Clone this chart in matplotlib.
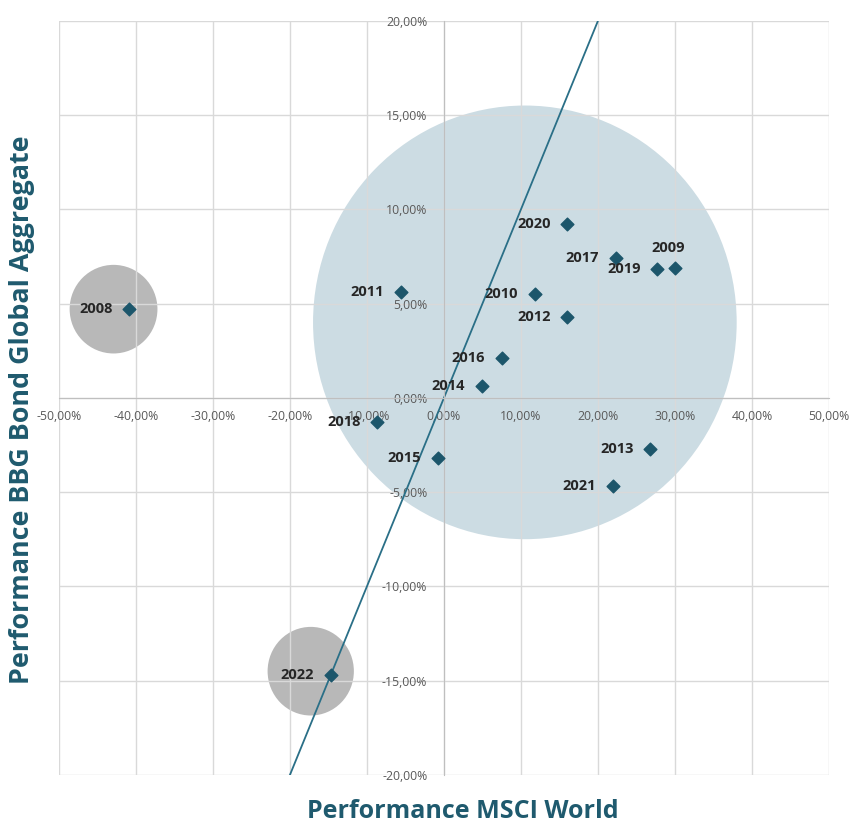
import matplotlib.pyplot as plt
from matplotlib.patches import Ellipse
from matplotlib.ticker import FuncFormatter

# Jahresperformance in %
years = ["2008", "2009", "2010", "2011", "2012", "2013", "2014", "2015",
         "2016", "2017", "2018", "2019", "2020", "2021", "2022"]
msci_world = [-40.9, 30.0, 11.8, -5.6, 16.0, 26.8, 4.9, -0.8,
              7.5, 22.3, -8.7, 27.7, 16.0, 21.9, -14.7]
bbg_bond = [4.7, 6.9, 5.5, 5.6, 4.3, -2.7, 0.6, -3.2,
            2.1, 7.4, -1.3, 6.85, 9.2, -4.7, -14.7]

teal = "#1c566b"
label_col = "#1f5a6e"
tick_col = "#595959"

plt.rcParams['font.family'] = ['Open Sans', 'DejaVu Sans']

fig = plt.figure(figsize=(8.53, 8.27), dpi=100)
ax = fig.add_axes([0.069, 0.063, 0.903, 0.912])

ax.set_xlim(-50, 50)
ax.set_ylim(-20, 20)
ax.set_xticks(range(-50, 51, 10))
ax.set_yticks(range(-20, 21, 5))

fmt = FuncFormatter(lambda v, p: f"{v:.2f}".replace(".", ",") + "%")
ax.xaxis.set_major_formatter(fmt)
ax.yaxis.set_major_formatter(fmt)

ax.set_axisbelow(True)
ax.grid(True, color="#d9d9d9", linewidth=1.0)

for s in ["top", "right"]:
    ax.spines[s].set_visible(False)
ax.spines["left"].set_position(("data", 0))
ax.spines["bottom"].set_position(("data", 0))
ax.spines["left"].set_color("#bfbfbf")
ax.spines["bottom"].set_color("#bfbfbf")
ax.tick_params(length=0, colors=tick_col, labelsize=8.8)
ax.tick_params(axis="x", pad=9)
ax.tick_params(axis="y", pad=12)

# Kreise
ax.add_patch(Ellipse((10.5, 4.0), 55, 23, color="#ccdce3", zorder=0.2, lw=0))
ax.add_patch(Ellipse((-42.9, 4.7), 11.4, 4.7, color="#b8b8b8", zorder=0.2, lw=0))
ax.add_patch(Ellipse((-17.3, -14.5), 11.2, 4.7, color="#b8b8b8", zorder=0.2, lw=0))

# Diagonale
ax.plot([-20, 20], [-20, 20], color="#2a6f87", lw=1.3, zorder=2)

ax.scatter(msci_world, bbg_bond, marker="D", s=42, color=teal, zorder=3)

for yr, x, y in zip(years, msci_world, bbg_bond):
    if yr == "2009":
        ax.annotate(yr, (x, y), xytext=(-5, 14), textcoords="offset points",
                    ha="center", va="center", fontsize=10.5, fontweight="bold",
                    color="#262626", zorder=4)
    else:
        ax.annotate(yr, (x, y), xytext=(-12, 0), textcoords="offset points",
                    ha="right", va="center", fontsize=10.5, fontweight="bold",
                    color="#262626", zorder=4)

fig.text(0.543, 0.004, "Performance MSCI World", ha="center", va="bottom",
         fontsize=18, fontweight="bold", color=label_col)
fig.text(0.026, 0.505, "Performance BBG Bond Global Aggregate", ha="center",
         va="center", rotation=90, fontsize=19.4, fontweight="bold", color=label_col)

fig.savefig("out.png", dpi=100)
